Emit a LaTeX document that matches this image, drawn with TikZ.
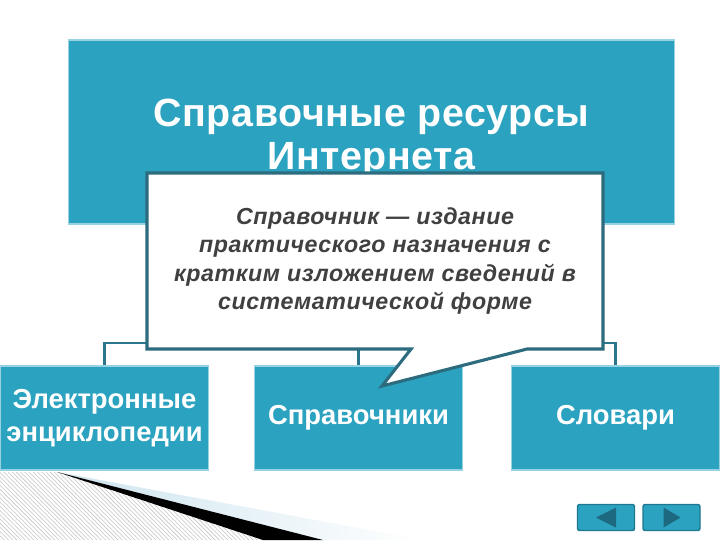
\documentclass[tikz,border=0pt]{standalone}
\usepackage{fontspec}
\setmainfont{Liberation Sans}
\newfontfamily\titlefont[LetterSpace=1.5]{Liberation Sans}
\newfontfamily\notefont[LetterSpace=2.5]{Liberation Sans}
\usetikzlibrary{calc}
\usetikzlibrary{patterns}
\definecolor{boxteal}{RGB}{43,162,191}
\definecolor{boxedge}{RGB}{150,210,226}
\definecolor{linkteal}{RGB}{42,118,140}
\definecolor{calloutedge}{RGB}{45,108,126}
\definecolor{textgray}{RGB}{64,64,64}
\definecolor{navedge}{RGB}{30,120,145}
\definecolor{navarrow}{RGB}{28,105,128}
\definecolor{curlblue}{RGB}{205,228,238}
\tikzset{
  topbox/.style={draw=boxedge, line width=0.8pt, fill=boxteal,
    minimum width=15.125cm, minimum height=4.6cm},
  toptext/.style={text=white, align=center,
    font=\titlefont\fontsize{28}{30.6}\selectfont\bfseries},
  leafbox/.style={draw=boxedge, line width=0.8pt, fill=boxteal, text=white,
    minimum width=5.2cm, minimum height=2.6cm, align=center, inner sep=0pt,
    font=\fontsize{19.5}{23}\selectfont\bfseries},
  link/.style={linkteal, line width=2pt},
  navbtn/.style={draw=navedge, line width=1pt, fill=boxteal, rounded corners=1.5pt,
    minimum width=1.425cm, minimum height=0.65cm}
}
\begin{document}
\begin{tikzpicture}[x=0.025cm, y=-0.025cm]
            \useasboundingbox (0,0) rectangle (720,540);
            \fill[white] (0,0) rectangle (720,540);
            \node[topbox] (res) at (371.5,132) {};
            \node[toptext] (restitle) at (371.5,138.5) {Справочные ресурсы\\Интернета};
            \node[leafbox] (enc) at (104.5,418) {Электронные\\энциклопедии};
            \node[leafbox] (spr) at (358.5,418) {Справочники};
            \node[leafbox] (slv) at (615.5,418) {Словари};
            \coordinate (fork) at (371.5,343);
            \draw[link] (res.south) -- (fork);
            \draw[link] (fork) -| (enc.north);
            \draw[link] (fork) -| (spr.north);
            \draw[link] (fork) -| (slv.north);
            \filldraw[fill=white, draw=calloutedge, line width=2.2pt, line join=miter]
              (147,173) -- (603,173) -- (603,349) -- (527,349) -- (382,386)
              -- (411,349) -- (147,349) -- cycle;
            \node[text=textgray, align=center, font=\notefont\fontsize{16.5}{20}\selectfont\bfseries\itshape]
              (def) at (375,261) {Справочник — издание\\практического назначения с\\кратким изложением сведений в\\систематической форме};
            \fill[pattern=north west lines, pattern color=gray!45] (0,472) -- (57,472) -- (263,540) -- (0,540) -- cycle;
            \shade[left color=curlblue, right color=white] (57,472) -- (423,540) -- (323,540) -- cycle;
            \fill[black] (57,472) -- (323,540) -- (263,540) -- cycle;
            \node[navbtn] (navl) at (606,517.5) {};
            \node[navbtn] (navr) at (671.5,517.5) {};
            \fill[navarrow] ($(navl.center)+(-10,0)$) -- ($(navl.center)+(10,-10)$) -- ($(navl.center)+(10,10)$) -- cycle;
            \fill[navarrow] ($(navr.center)+(9,0)$) -- ($(navr.center)+(-8,-10)$) -- ($(navr.center)+(-8,10)$) -- cycle;
\end{tikzpicture}
\end{document}
